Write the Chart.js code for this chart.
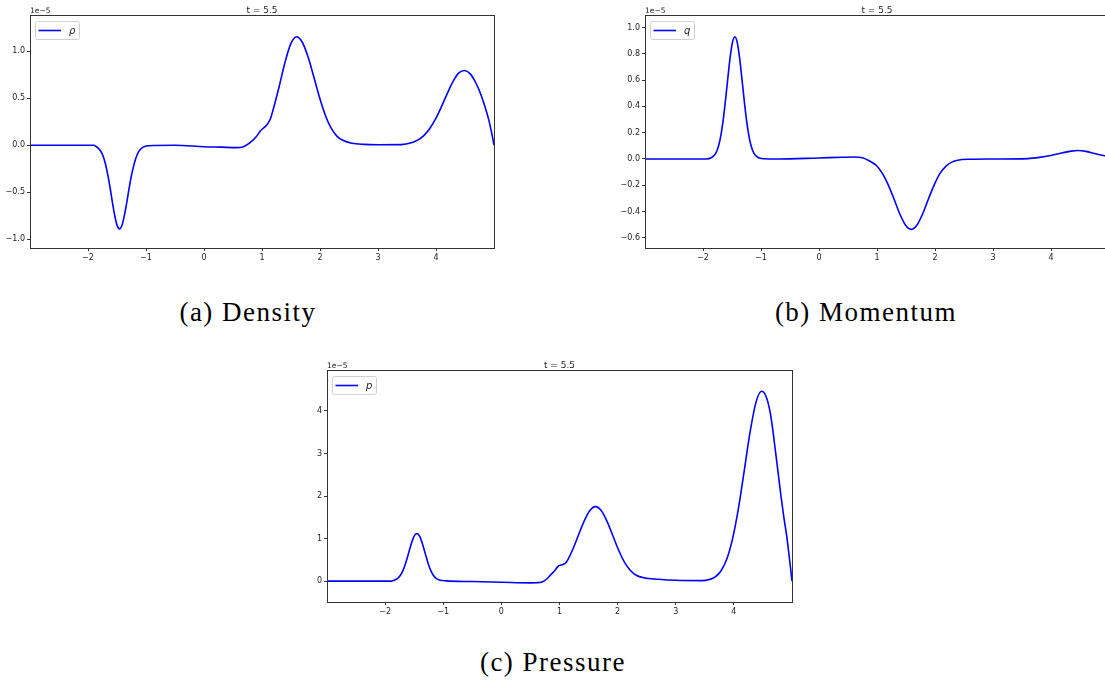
<!DOCTYPE html>
<html>
<head>
<meta charset="utf-8">
<script src="https://cdn.jsdelivr.net/npm/chart.js@4.4.1/dist/chart.umd.min.js"></script>
<style>
    html, body { margin: 0; padding: 0; background: #fff; width: 1105px; height: 688px; overflow: hidden; }
    .panel { position: absolute; }
    .caption {
        position: absolute; width: 300px; text-align: center;
        font-family: "Liberation Serif", serif; font-size: 27px; line-height: 27px;
        letter-spacing: 1.5px; color: #000;
    }
</style>
</head>
<body>
<div class="panel" style="left:0px; top:0px;"><canvas id="densityChart" width="500" height="265"></canvas></div>
<div class="panel" style="left:615px; top:0px;"><canvas id="momentumChart" width="500" height="265"></canvas></div>
<div class="panel" style="left:297px; top:355px;"><canvas id="pressureChart" width="501" height="264"></canvas></div>

<div class="caption" style="left:98px; top:299px;">(a) Density</div>
<div class="caption" style="left:716px; top:299px;">(b) Momentum</div>
<div class="caption" style="left:403px; top:649px;">(c) Pressure</div>

<script>
// values are in units of 1e-5 (the offset shown above each axis)
const xTicks = [-2, -1, 0, 1, 2, 3, 4];
const timeLabel = 't = 5.5';

const densityX = [-3.0, -1.90, -1.857, -1.787, -1.737, -1.697, -1.657, -1.617, -1.577, -1.537, -1.497, -1.457,
    -1.417, -1.377, -1.337, -1.297, -1.257, -1.217, -1.177, -1.127, -1.057, -0.957, -0.5, 0.0, 0.3, 0.55, 0.68,
    0.8, 0.9, 0.97, 1.0, 1.05, 1.1, 1.15, 1.195, 1.295, 1.395, 1.495, 1.595, 1.695, 1.795, 1.895, 1.995, 2.095,
    2.195, 2.295, 2.4, 2.55, 2.75, 3.0, 3.4, 3.59, 3.69, 3.79, 3.89, 3.99, 4.09, 4.19, 4.29, 4.39, 4.49, 4.59,
    4.69, 4.78, 4.85, 4.91, 4.95, 4.98, 5.0];
const densityY = [0, 0, -0.015, -0.055, -0.12, -0.205, -0.32, -0.46, -0.615, -0.755, -0.855, -0.89,
    -0.857, -0.76, -0.63, -0.48, -0.34, -0.23, -0.14, -0.067, -0.022, -0.005, 0.0, -0.015, -0.02, -0.025, -0.015,
    0.03, 0.09, 0.15, 0.17, 0.195, 0.23, 0.29, 0.386, 0.623, 0.878, 1.078, 1.155, 1.096, 0.938, 0.723, 0.503, 0.315,
    0.18, 0.095, 0.05, 0.022, 0.01, 0.006, 0.007, 0.03, 0.057, 0.103, 0.175, 0.277, 0.405, 0.545, 0.675, 0.767, 0.795, 0.76,
    0.66, 0.53, 0.40, 0.27, 0.16, 0.07, 0.0];
const densityTicks = [-1.0, -0.5, 0.0, 0.5, 1.0];

const momentumX = [-3.0, -1.951, -1.851, -1.781, -1.731, -1.691, -1.651, -1.611, -1.571, -1.531, -1.491, -1.451,
    -1.411, -1.371, -1.331, -1.291, -1.251, -1.211, -1.171, -1.121, -1.051, -0.951, -0.7, 0.0, 0.4, 0.6, 0.75,
    0.89, 0.99, 1.09, 1.19, 1.29, 1.39, 1.49, 1.59, 1.69, 1.79, 1.89, 1.99, 2.09, 2.19, 2.29, 2.39, 2.6, 3.0,
    3.6, 3.8, 4.0, 4.2, 4.35, 4.47, 4.6, 4.75, 4.9, 5.0];
const momentumY = [0, 0, 0.011, 0.043, 0.101, 0.182, 0.3, 0.451, 0.619, 0.776, 0.889, 0.93,
    0.889, 0.776, 0.619, 0.451, 0.3, 0.182, 0.101, 0.043, 0.011, 0.002, 0, 0.008, 0.013, 0.015, 0.01,
    -0.02, -0.05, -0.108, -0.193, -0.301, -0.415, -0.502, -0.535, -0.502, -0.415, -0.301, -0.193, -0.108, -0.054, -0.024, -0.009, -0.002, 0,
    0.003, 0.012, 0.027, 0.047, 0.06, 0.064, 0.058, 0.042, 0.026, 0.017];
const momentumTicks = [-0.6, -0.4, -0.2, 0.0, 0.2, 0.4, 0.6, 0.8, 1.0];

const pressureX = [-3.0, -1.90, -1.854, -1.784, -1.734, -1.694, -1.654, -1.614, -1.574, -1.534, -1.494, -1.454,
    -1.414, -1.374, -1.334, -1.294, -1.254, -1.214, -1.174, -1.124, -1.054, -0.95, -0.5, 0.0, 0.5, 0.6, 0.7,
    0.78, 0.85, 0.92, 0.97, 1.0, 1.06, 1.12, 1.22, 1.32, 1.42, 1.52, 1.62, 1.72, 1.82, 1.92, 2.02, 2.12, 2.22,
    2.32, 2.45, 2.7, 3.0, 3.45, 3.58, 3.68, 3.78, 3.88, 3.98, 4.08, 4.18, 4.28, 4.38, 4.476, 4.55, 4.62, 4.67,
    4.72, 4.77, 4.81, 4.86, 4.91, 4.95, 4.98, 5.0];
const pressureY = [0, 0, 0.017, 0.064, 0.143, 0.246, 0.392, 0.571, 0.767, 0.946, 1.074, 1.12,
    1.074, 0.946, 0.767, 0.571, 0.392, 0.246, 0.143, 0.064, 0.02, 0.006, -0.01, -0.025, -0.04, -0.037, -0.02,
    0.05, 0.15, 0.25, 0.34, 0.37, 0.39, 0.45, 0.72, 1.06, 1.4, 1.655, 1.75, 1.655, 1.4, 1.06, 0.72, 0.44, 0.25,
    0.14, 0.08, 0.045, 0.02, 0.012, 0.04, 0.1, 0.243, 0.524, 1.01, 1.72, 2.61, 3.51, 4.2, 4.46, 4.35, 4.0, 3.55,
    3.0, 2.45, 2.0, 1.5, 1.05, 0.6, 0.25, 0.0];
const pressureTicks = [0, 1, 2, 3, 4];

function fmt(v, d) {
    return v.toFixed(d).replace('-', '\u2212');
}

const decorations = {
    id: 'decorations',
    afterDraw(chart, args, opts) {
        const ctx = chart.ctx;
        const a = chart.chartArea;
        ctx.save();
        // frame on all four sides
        ctx.strokeStyle = '#333';
        ctx.lineWidth = 1;
        ctx.strokeRect(Math.round(a.left) + 0.5, Math.round(a.top) + 0.5, Math.round(a.right - a.left), Math.round(a.bottom - a.top));
        // title
        ctx.fillStyle = '#222';
        ctx.font = '9px "DejaVu Sans"';
        ctx.textAlign = 'center';
        ctx.textBaseline = 'alphabetic';
        ctx.fillText(timeLabel, (a.left + a.right) / 2, a.top - 2.5);
        // offset text
        ctx.font = '7.5px "DejaVu Sans"';
        ctx.textAlign = 'left';
        ctx.fillText('1e\u22125', a.left, a.top - 2);
        // legend
        const bx = a.left + 5.5, by = a.top + 6.5;
        ctx.beginPath();
        ctx.roundRect(bx, by, 44, 18, 2);
        ctx.fillStyle = 'rgba(255,255,255,0.85)';
        ctx.fill();
        ctx.strokeStyle = '#d0d0d0';
        ctx.stroke();
        ctx.beginPath();
        ctx.moveTo(bx + 3, by + 9);
        ctx.lineTo(bx + 25.5, by + 9);
        ctx.strokeStyle = '#0000ff';
        ctx.lineWidth = 1.6;
        ctx.stroke();
        ctx.fillStyle = '#222';
        ctx.font = 'italic 10px "DejaVu Sans"';
        ctx.fillText(opts.label, bx + 33.5, by + 12.5);
        ctx.restore();
    }
};

function makePanel(id, xs, ys, label, yMin, yMax, yTicks, decimals) {
    const points = xs.map((x, i) => ({ x: x, y: ys[i] }));
    return new Chart(document.getElementById(id).getContext('2d'), {
        type: 'line',
        data: {
            datasets: [{
                label: label,
                data: points,
                borderColor: '#0000ff',
                borderWidth: 1.6,
                pointRadius: 0,
                cubicInterpolationMode: 'monotone',
                fill: false
            }]
        },
        options: {
            responsive: false,
            animation: false,
            events: [],
            layout: { padding: { top: 15, right: 6, left: 0, bottom: 0 } },
            scales: {
                x: {
                    type: 'linear',
                    min: -3,
                    max: 5,
                    afterBuildTicks: s => { s.ticks = xTicks.map(v => ({ value: v })); },
                    afterFit: s => { s.height = 17; },
                    border: { display: false },
                    grid: { drawOnChartArea: false, drawTicks: true, tickLength: 3, color: '#333' },
                    ticks: {
                        padding: 2,
                        maxRotation: 0,
                        autoSkip: false,
                        color: '#222',
                        font: { family: 'DejaVu Sans', size: 8 },
                        callback: v => fmt(v, 0)
                    }
                },
                y: {
                    type: 'linear',
                    min: yMin,
                    max: yMax,
                    afterBuildTicks: s => { s.ticks = yTicks.map(v => ({ value: v })); },
                    afterFit: s => { s.width = 30; },
                    border: { display: false },
                    grid: { drawOnChartArea: false, drawTicks: true, tickLength: 3, color: '#333' },
                    ticks: {
                        padding: 2,
                        autoSkip: false,
                        color: '#222',
                        font: { family: 'DejaVu Sans', size: 8 },
                        callback: v => fmt(v, decimals)
                    }
                }
            },
            plugins: {
                legend: { display: false },
                tooltip: { enabled: false },
                decorations: { label: label }
            }
        },
        plugins: [decorations]
    });
}

makePanel('densityChart', densityX, densityY, '\u03c1', -1.093, 1.386, densityTicks, 1);
makePanel('momentumChart', momentumX, momentumY, 'q', -0.677, 1.095, momentumTicks, 1);
makePanel('pressureChart', pressureX, pressureY, 'p', -0.49, 4.96, pressureTicks, 0);
</script>
</body>
</html>
